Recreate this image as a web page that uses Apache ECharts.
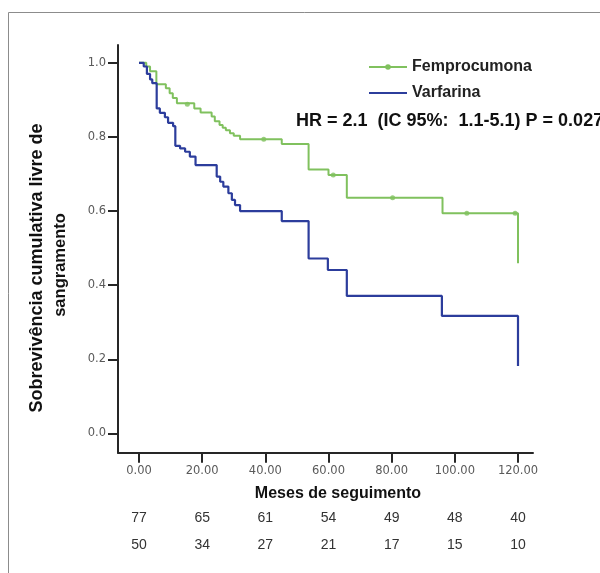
<!DOCTYPE html>
<html>
<head>
<meta charset="utf-8">
<script src="https://cdn.jsdelivr.net/npm/echarts@6/dist/echarts.min.js"></script>
<style>html,body{margin:0;padding:0;background:#fff;}#c{width:600px;height:573px;}</style>
</head>
<body>
<div id="c"></div>
<script>
// ---- data ----
const xTicks = [0, 20, 40, 60, 80, 100, 120];
const yTicks = [0, 0.2, 0.4, 0.6, 0.8, 1.0];
const riskFemp = [77, 65, 61, 54, 49, 48, 40];
const riskVarf = [50, 34, 27, 21, 17, 15, 10];

const femTimes = [0, 2.3, 3.5, 5.5, 8.5, 9.7, 10.7, 12, 17.5, 19.5, 23, 24, 25.5, 26.5, 27.5, 28.8, 30, 32, 45.2, 53.7, 60, 65.8, 96.1, 120];
const femSurv  = [1.0, 0.99, 0.977, 0.942, 0.931, 0.918, 0.905, 0.891, 0.877, 0.866, 0.855, 0.842, 0.832, 0.825, 0.818, 0.81, 0.803, 0.794, 0.781, 0.712, 0.697, 0.636, 0.594, 0.459];

const varTimes = [0, 1.5, 2.5, 3.5, 4.2, 5.6, 6.6, 8.2, 9.2, 10.8, 11.5, 13, 14.6, 16.1, 17.9, 24.6, 25.7, 26.7, 28.3, 29.4, 30.4, 32, 45.2, 53.7, 59.8, 65.8, 95.9, 120];
const varSurv  = [1.0, 0.99, 0.97, 0.955, 0.945, 0.877, 0.865, 0.853, 0.838, 0.829, 0.776, 0.769, 0.76, 0.747, 0.724, 0.693, 0.679, 0.666, 0.648, 0.63, 0.616, 0.6, 0.573, 0.472, 0.441, 0.371, 0.317, 0.182];

const censorTimes = [15.3, 39.5, 61.5, 80.3, 103.8, 119.1];
const censorSurv  = [0.888, 0.794, 0.697, 0.636, 0.594, 0.594];

const seriesNames = ['Femprocumona', 'Varfarina'];
const xTitle = 'Meses de seguimento';
const yTitle1 = 'Sobrevivência cumulativa livre de';
const yTitle2 = 'sangramento';
const hrText = 'HR = 2.1  (IC 95%:  1.1-5.1) P = 0.027';

// ---- styles ----
const GREEN = '#80c15e';
const BLUE = '#2c3d9c';
const AXIS = '#262626';
const XMIN = -6.65, XMAX = 124.75, YMIN = -0.052, YMAX = 1.048;

const chart = echarts.init(document.getElementById('c'), null, {renderer: 'canvas'});

function riskAxis(values, margin) {
  return {
    type: 'value', min: XMIN, max: XMAX, position: 'bottom',
    axisLine: {show: false, onZero: false}, axisTick: {show: false}, splitLine: {show: false},
    axisLabel: {
      customValues: xTicks, margin: margin,
      formatter: v => String(values[xTicks.indexOf(v)]),
      color: '#333', fontSize: 14, fontFamily: "'Liberation Sans Narrow', 'Liberation Sans', Arial"
    }
  };
}

const option = {
  animation: false,
  backgroundColor: '#ffffff',
  grid: {left: 118, right: 67, top: 45, bottom: 120.3},
  legend: {
    data: [
      {name: seriesNames[0]},
      {name: seriesNames[1], icon: 'path://M0,0H38V2.2H0Z'}
    ],
    orient: 'vertical', left: 363, top: 54,
    itemWidth: 38, itemHeight: 7, itemGap: 10,
    textStyle: {fontWeight: 'bold', fontSize: 16, color: '#222', fontFamily: "'Liberation Sans', Arial"}
  },
  xAxis: [
    {
      type: 'value', min: XMIN, max: XMAX, position: 'bottom',
      axisLine: {onZero: false, lineStyle: {color: AXIS, width: 2}},
      axisTick: {customValues: xTicks, length: 10, lineStyle: {color: AXIS, width: 2}},
      axisLabel: {customValues: xTicks, formatter: v => v.toFixed(2), margin: 12,
        color: '#5a5a5a', fontSize: 11.5, fontFamily: "'DejaVu Sans'"},
      splitLine: {show: false}
    },
    riskAxis(riskFemp, 58),
    riskAxis(riskVarf, 85)
  ],
  yAxis: {
    type: 'value', min: YMIN, max: YMAX,
    axisLine: {onZero: false, lineStyle: {color: AXIS, width: 2}},
    axisTick: {customValues: yTicks, length: 10, lineStyle: {color: AXIS, width: 2}},
    axisLabel: {customValues: yTicks, formatter: v => v.toFixed(1), margin: 12,
      color: '#5a5a5a', fontSize: 11.5, fontFamily: "'DejaVu Sans'"},
    splitLine: {show: false}
  },
  series: [
    {
      name: seriesNames[0], type: 'line', step: 'end', xAxisIndex: 0,
      data: femTimes.map((t, i) => [t, femSurv[i]]),
      symbol: 'circle', symbolSize: 5, showSymbol: false, silent: true,
      lineStyle: {color: GREEN, width: 2}, itemStyle: {color: GREEN}
    },
    {
      name: seriesNames[1], type: 'line', step: 'end', xAxisIndex: 0,
      data: varTimes.map((t, i) => [t, varSurv[i]]),
      symbol: 'none', silent: true,
      lineStyle: {color: BLUE, width: 2.2}, itemStyle: {color: BLUE}
    },
    {
      name: 'censor', type: 'scatter', xAxisIndex: 0,
      data: censorTimes.map((t, i) => [t, censorSurv[i]]),
      symbol: 'circle', symbolSize: 5, silent: true,
      itemStyle: {color: GREEN}
    }
  ],
  graphic: [
    {type: 'rect', shape: {x: 8.5, y: 12.5, width: 900, height: 900},
      style: {fill: 'none', stroke: '#8c8c8c', lineWidth: 1}, silent: true},
    {type: 'text', x: 37, y: 268, rotation: Math.PI / 2,
      style: {text: yTitle1, fontSize: 18, fontWeight: 'bold', fontFamily: "'Liberation Sans', Arial",
        fill: '#111', align: 'center', verticalAlign: 'middle'}},
    {type: 'text', x: 60, y: 265, rotation: Math.PI / 2,
      style: {text: yTitle2, fontSize: 16.5, fontWeight: 'bold', fontFamily: "'Liberation Sans', Arial",
        fill: '#111', align: 'center', verticalAlign: 'middle'}},
    {type: 'text', x: 338, y: 494,
      style: {text: xTitle, fontSize: 16, fontWeight: 'bold', fontFamily: "'Liberation Sans', Arial",
        fill: '#111', align: 'center', verticalAlign: 'middle'}},
    {type: 'text', x: 296, y: 121,
      style: {text: hrText, fontSize: 18, fontWeight: 'bold', fontFamily: "'Liberation Sans', Arial",
        fill: '#111', align: 'left', verticalAlign: 'middle'}}
  ]
};
chart.setOption(option);
</script>
</body>
</html>
